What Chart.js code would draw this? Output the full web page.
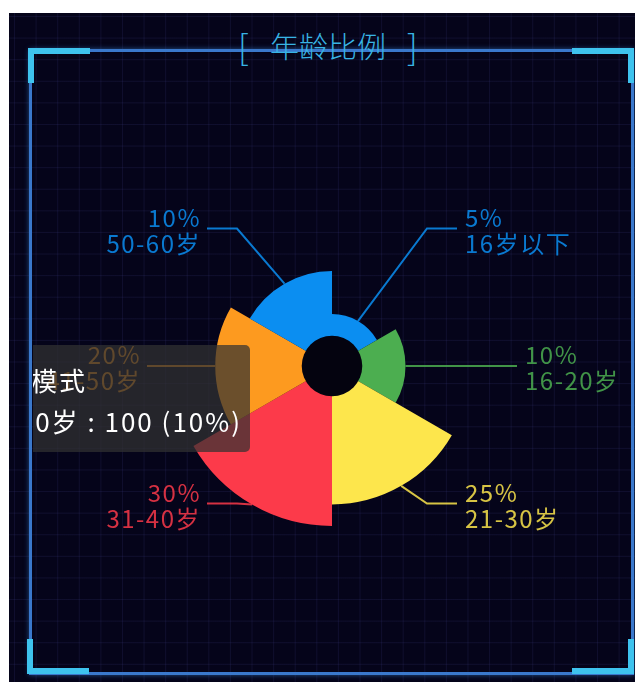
<!DOCTYPE html>
<html>
<head>
<meta charset="utf-8">
<script src="https://cdn.jsdelivr.net/npm/chart.js@4/dist/chart.umd.min.js"></script>
<style>
  html, body { margin: 0; padding: 0; background: #ffffff; }
  body { width: 635px; height: 682px; position: relative; overflow: hidden; font-family: "Noto Sans CJK SC", "Noto Sans", sans-serif; }
  #panel {
    position: absolute; left: 9px; top: 13px; width: 626px; height: 669px;
    background-color: #05041a;
    background-image:
      linear-gradient(rgba(70,70,150,0.16) 1px, transparent 1px),
      linear-gradient(90deg, rgba(70,70,150,0.16) 1px, transparent 1px);
    background-size: 21.6px 21.6px;
    background-position: 5px 3px;
  }
  #frame {
    position: absolute; left: 29px; top: 49px; width: 599px; height: 620px;
    border: 3px solid #3a78cc;
    box-shadow: 0 0 5px rgba(60,140,230,0.55);
  }
  .corner { position: absolute; width: 56px; height: 29px; border: 0 solid #3ec3ee; }
  #c1 { left: 28px; top: 48px; border-top-width: 6px; border-left-width: 6px; }
  #c2 { left: 572px; top: 48px; border-top-width: 6px; border-right-width: 6px; }
  #c3 { left: 27px; top: 639px; border-bottom-width: 6px; border-left-width: 6px; }
  #c4 { left: 572px; top: 639px; border-bottom-width: 6px; border-right-width: 6px; }
  .tt { position: absolute; color: #38b4e4; font-weight: 300; white-space: nowrap; line-height: 1; }
  #chart { position: absolute; left: 0; top: 0; }
  #clip { position: absolute; left: 33px; top: 52px; width: 595px; height: 617px; overflow: hidden; }
  #tooltip {
    position: absolute; right: 378px; top: 293px;
    background: rgba(50,50,50,0.72); border-radius: 5px;
    color: #ffffff; font-size: 26px; line-height: 41px; letter-spacing: 2px;
    padding: 14px 8px 11px 10px; white-space: nowrap;
  }
</style>
</head>
<body>
<div id="panel"></div>
<div id="frame"></div>
<div class="corner" id="c1"></div>
<div class="corner" id="c2"></div>
<div class="corner" id="c3"></div>
<div class="corner" id="c4"></div>
<div class="tt" style="left:238px; top:29px; font-size:34px;">[</div>
<div class="tt" style="left:270px; top:31px; font-size:29px;">年龄比例</div>
<div class="tt" style="left:407px; top:29px; font-size:34px;">]</div>
<canvas id="chart" width="635" height="682"></canvas>
<div id="clip"><div id="tooltip">面积模式<br>50-60岁 : 100 (10%)</div></div>
<script>
// ---- data ----
const categories = ['16岁以下', '16-20岁', '21-30岁', '31-40岁', '41-50岁', '50-60岁'];
const values = [50, 100, 250, 300, 200, 100];
const percentLabels = ['5%', '10%', '25%', '30%', '20%', '10%'];
const colors = ['#0b8ef1', '#4cae50', '#fde64c', '#fc3a4a', '#fd9a1f', '#0b8ef1'];
const highlightedIndex = 5; // hovered slice (50-60岁)

const bgColor = '#04030f';

const emphasisPlugin = {
  id: 'emphasis',
  afterDatasetUpdate(chart, args) {
    const el = args.meta.data[highlightedIndex];
    if (el) el.outerRadius += 21.5;
  }
};

const holeAndLabels = {
  id: 'holeAndLabels',
  afterDatasetsDraw(chart) {
    const ctx = chart.ctx;
    const scale = chart.scales.r;
    const meta = chart.getDatasetMeta(0);
    const cx = scale.xCenter, cy = scale.yCenter;
    // hole
    ctx.save();
    ctx.beginPath();
    ctx.arc(cx, cy, scale.getDistanceFromCenterForValue(0), 0, Math.PI * 2);
    ctx.fillStyle = bgColor;
    ctx.fill();
    // labels
    const A = 155, B = 174, shift = 7.8 * Math.PI / 180;
    ctx.font = '24px "Noto Sans CJK SC", "Noto Sans", sans-serif';
    if ('letterSpacing' in ctx) ctx.letterSpacing = '1.5px';
    ctx.textBaseline = 'middle';
    meta.data.forEach((arc, i) => {
      const p = arc.getProps(['x', 'y', 'startAngle', 'endAngle', 'outerRadius'], true);
      const mid = (p.startAngle + p.endAngle) / 2;
      const c = Math.cos(mid), s = Math.sin(mid);
      const sx = p.x + p.outerRadius * c, sy = p.y + p.outerRadius * s;
      const dir = c >= 0 ? 1 : -1;
      let ex, ey;
      if (Math.abs(c) > 0.99) {
        ex = p.x + A * dir; ey = sy;
      } else {
        const m2 = mid - shift * Math.sign(s) * Math.sign(c);
        ex = p.x + A * Math.cos(m2); ey = p.y + B * Math.sin(m2);
      }
      const ex2 = ex + 30 * dir;
      ctx.strokeStyle = colors[i];
      ctx.globalAlpha = 0.85;
      ctx.lineWidth = 2;
      ctx.beginPath();
      ctx.moveTo(sx, sy);
      ctx.lineTo(ex, ey);
      ctx.lineTo(ex2, ey);
      ctx.stroke();
      ctx.fillStyle = colors[i];
      ctx.textAlign = dir > 0 ? 'left' : 'right';
      const tx = ex2 + (dir > 0 ? 8 : -6);
      ctx.fillText(percentLabels[i], tx, ey - 11);
      ctx.fillText(categories[i], tx, ey + 15);
    });
    ctx.restore();
  }
};

new Chart(document.getElementById('chart'), {
  type: 'polarArea',
  data: {
    labels: categories,
    datasets: [{
      data: values,
      backgroundColor: colors,
      borderWidth: 0
    }]
  },
  options: {
    responsive: false,
    animation: false,
    layout: { padding: { left: 172, right: 143, top: 206, bottom: 156 } },
    plugins: { legend: { display: false }, tooltip: { enabled: false } },
    scales: {
      r: { display: false, min: -70, max: 300, startAngle: 0 }
    },
    events: []
  },
  plugins: [emphasisPlugin, holeAndLabels]
});
</script>
</body>
</html>
